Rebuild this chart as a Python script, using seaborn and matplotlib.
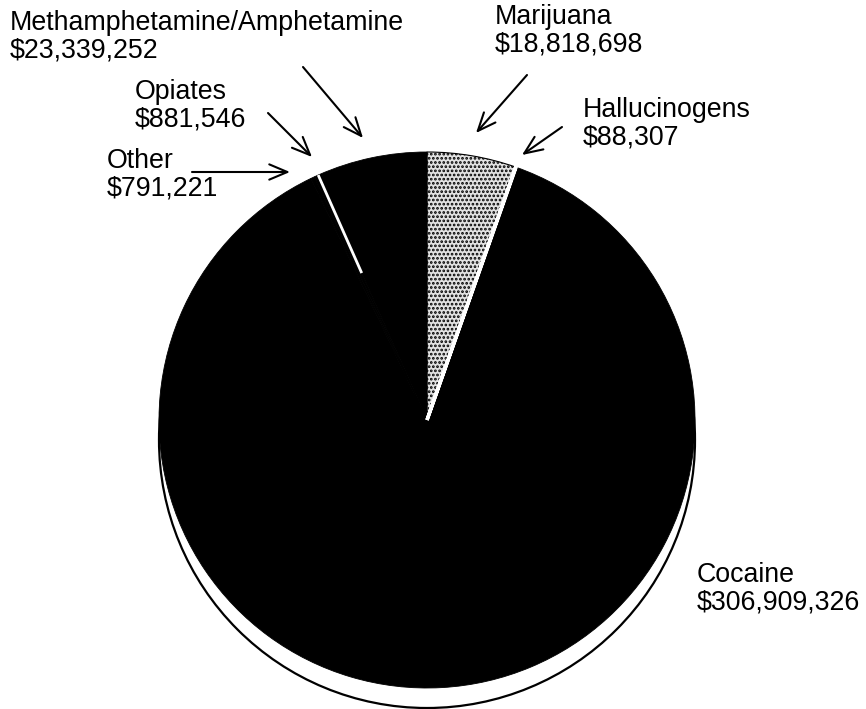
import numpy as np
import matplotlib
matplotlib.use("Agg")
import matplotlib.pyplot as plt
from matplotlib.patches import Circle
import seaborn as sns

# ============================================================
# DATA (clockwise from 12 o'clock)
# ============================================================

drugs = [
    "Marijuana",
    "Hallucinogens",
    "Cocaine",
    "Other",
    "Opiates",
    "Methamphetamine/Amphetamine",
]

amounts = [
    18818698,
    88307,
    306909326,
    791221,
    881546,
    23339252,
]

slice_colors = ["#e2e2e2", "white", "black", "black", "black", "black"]

# ============================================================
# STYLE
# ============================================================

sns.set_style("white")
plt.rcParams["font.family"] = ["Liberation Sans", "DejaVu Sans"]
plt.rcParams["hatch.linewidth"] = 1.3

W, H = 866, 709
CX, CY, R = 427, 420, 268   # pie centre / radius in pixels


def px(x, y):
    # pixel position (from top-left) -> data coords of the pie axes
    return (x - CX) / R, (CY - y) / R


fig = plt.figure(figsize=(W / 100, H / 100), dpi=100)
ax = fig.add_axes([0, 0, 1, 1])

# ============================================================
# PIE + 3D RIM
# ============================================================

rim = Circle((0, -20 / R), 1.0, facecolor="white", edgecolor="black",
             linewidth=1.6, zorder=0)
ax.add_patch(rim)

wedges, _ = ax.pie(
    amounts,
    colors=slice_colors,
    startangle=90,
    counterclock=False,
    radius=1.0,
    center=(0, 0),
    frame=True,
    wedgeprops=dict(linewidth=0.6, edgecolor="black"),
)

for w in wedges:
    w.set_zorder(2)

# stippled marijuana slice
wedges[0].set_hatch("....")
wedges[0].set_linewidth(0.8)

# hallucinogens: a hairline white slice
wedges[1].set_edgecolor("white")
wedges[1].set_linewidth(2.5)
wedges[1].set_zorder(3)

# white separation line between Meth/Amphetamine and Opiates
total = float(np.sum(amounts))
ang = np.deg2rad(90 + 360 * amounts[-1] / total)
r_in = 0.6
ax.plot([r_in * np.cos(ang), np.cos(ang)],
        [r_in * np.sin(ang), np.sin(ang)],
        color="white", lw=2, zorder=4, solid_capstyle="butt")

ax.set_xlim(px(0, 0)[0], px(W, 0)[0])
ax.set_ylim(px(0, H)[1], px(0, 0)[1])
ax.set_aspect("equal")
ax.axis("off")

# ============================================================
# LABELS + ARROWS
# ============================================================

labels = {
    "Methamphetamine/Amphetamine": ("Methamphetamine/Amphetamine\n$23,339,252", (10, 10)),
    "Opiates": ("Opiates\n$881,546", (135, 79)),
    "Other": ("Other\n$791,221", (107, 148)),
    "Marijuana": ("Marijuana\n$18,818,698", (495, 4)),
    "Hallucinogens": ("Hallucinogens\n$88,307", (583, 97)),
    "Cocaine": ("Cocaine\n$306,909,326", (697, 562)),
}

for name, (txt, (x, y)) in labels.items():
    tx, ty = px(x, y)
    ax.text(tx, ty, txt, ha="left", va="top", fontsize=19.3,
            linespacing=1.08, color="black")

arrows = [
    ((303, 67), (363, 138)),
    ((268, 113), (312, 157)),
    ((192, 172), (290, 172)),
    ((527, 75), (476, 133)),
    ((562, 127), (522, 155)),
]

for tail, head in arrows:
    ax.annotate(
        "",
        xy=px(*head),
        xytext=px(*tail),
        arrowprops=dict(
            arrowstyle="->, head_length=1.3, head_width=0.55",
            lw=1.5,
            color="black",
            mutation_scale=10,
            shrinkA=0,
            shrinkB=0,
        ),
    )

fig.savefig("out.png", dpi=100, facecolor="white")
